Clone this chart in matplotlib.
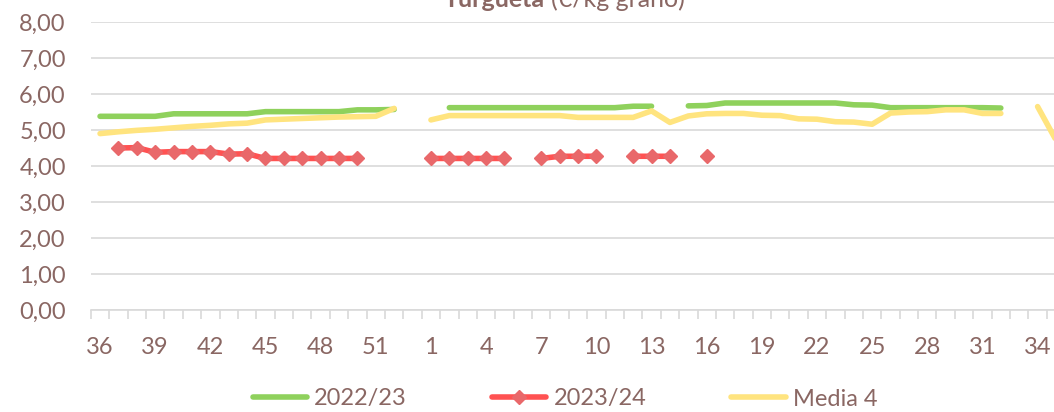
import numpy as np
import matplotlib.pyplot as plt

nan = np.nan

# Weeks of the campaign (36 -> 53, then 1 -> 35)
weeks = [36, 37, 38, 39, 40, 41, 42, 43, 44, 45, 46, 47, 48, 49, 50, 51, 52, 53,
         1, 2, 3, 4, 5, 6, 7, 8, 9, 10, 11, 12, 13, 14, 15, 16, 17, 18, 19, 20,
         21, 22, 23, 24, 25, 26, 27, 28, 29, 30, 31, 32, 33, 34, 35]

# Price in €/kg
campaign_2022_23 = [5.38, 5.38, 5.38, 5.38, 5.45, 5.45, 5.45, 5.45, 5.45,
                    5.51, 5.51, 5.51, 5.51, 5.51, 5.56, 5.56, 5.57, nan,
                    nan, 5.62, 5.62, 5.62, 5.62, 5.62, 5.62, 5.62, 5.62, 5.62,
                    5.62, 5.66, 5.66, nan, 5.67, 5.68, 5.75, 5.75, 5.75, 5.75,
                    5.75, 5.75, 5.75, 5.70, 5.69, 5.62, 5.62, 5.62, 5.62, 5.62,
                    5.62, 5.61, nan, nan, nan]

campaign_2023_24 = [nan, 4.50, 4.51, 4.38, 4.40, 4.40, 4.40, 4.33, 4.34,
                    4.21, 4.21, 4.21, 4.21, 4.21, 4.21, nan, nan, nan,
                    4.21, 4.21, 4.21, 4.21, 4.21, nan, 4.21, 4.27, 4.27, 4.27,
                    nan, 4.27, 4.27, 4.27, nan, 4.27, nan, nan, nan, nan,
                    nan, nan, nan, nan, nan, nan, nan, nan, nan, nan,
                    nan, nan, nan, nan, nan]

media_4 = [4.90, 4.95, 4.99, 5.02, 5.06, 5.10, 5.13, 5.17, 5.19,
           5.28, 5.30, 5.32, 5.34, 5.36, 5.37, 5.38, 5.60, nan,
           5.28, 5.40, 5.40, 5.40, 5.40, 5.40, 5.40, 5.40, 5.35, 5.35,
           5.35, 5.35, 5.53, 5.21, 5.39, 5.45, 5.46, 5.46, 5.41, 5.40,
           5.31, 5.30, 5.23, 5.22, 5.16, 5.47, 5.50, 5.51, 5.56, 5.56,
           5.46, 5.46, nan, 5.65, 4.72]

series_labels = ['2022/23', '2023/24', 'Media 4']

text_color = '#8a6763'
grid_color = '#d9d9d9'

plt.rcParams['font.family'] = ['Lato', 'DejaVu Sans']

fig = plt.figure(figsize=(10.54, 4.12), dpi=100)
# the plot area runs past the right edge of the image
ax = fig.add_axes([0.0862, 0.2476, 0.9244, 0.699])

x = np.arange(len(weeks))

ax.plot(x, campaign_2022_23, color='#8fd15c', lw=4, solid_capstyle='round',
        label=series_labels[0], zorder=3)
ax.plot(x, campaign_2023_24, color='#ff5252', lw=4, solid_capstyle='round',
        marker='D', markersize=7, markerfacecolor='#e9686a',
        markeredgecolor='#e9686a', label=series_labels[1], zorder=4)
ax.plot(x, media_4, color='#ffe47f', lw=4, solid_capstyle='round',
        label=series_labels[2], zorder=5)

ax.set_xlim(-0.5, len(weeks) - 0.5)
ax.set_ylim(0, 8)

# y axis
ax.set_yticks(np.arange(0, 9, 1))
ax.set_yticklabels([f'{v:.2f}'.replace('.', ',') for v in np.arange(0, 9, 1)])
ax.yaxis.grid(True, color=grid_color, lw=1.2)
ax.set_axisbelow(True)

# x axis: label every third week, tick marks between categories
ax.set_xticks(x[::3])
ax.set_xticklabels([str(w) for w in weeks[::3]])
ax.set_xticks(np.arange(-0.5, len(weeks), 1), minor=True)
ax.tick_params(axis='x', which='major', length=0, pad=19.5,
               labelsize=17, labelcolor=text_color)
ax.tick_params(axis='x', which='minor', length=6.5, width=1.2,
               color=grid_color, direction='out')
ax.tick_params(axis='y', length=0, pad=18, labelsize=17,
               labelcolor=text_color)

for side in ['top', 'right', 'left']:
    ax.spines[side].set_visible(False)
ax.spines['bottom'].set_color(grid_color)
ax.spines['bottom'].set_linewidth(1.2)

# title, partly above the image edge
fig.text(545 / 1054, 1 - 7 / 412, 'Turgueta', ha='right', va='baseline',
         fontsize=18, fontweight='bold', color=text_color)
fig.text(551 / 1054, 1 - 7 / 412, '(€/kg grano)', ha='left', va='baseline',
         fontsize=18, color=text_color)

leg = ax.legend(loc='center', bbox_to_anchor=(565 / 1054, 13 / 412),
                bbox_transform=fig.transFigure, ncol=3, frameon=False,
                fontsize=17, handlelength=2.3, handletextpad=0.3,
                columnspacing=3.6, numpoints=1)
for t in leg.get_texts():
    t.set_color(text_color)

fig.savefig('out.png', dpi=100)
